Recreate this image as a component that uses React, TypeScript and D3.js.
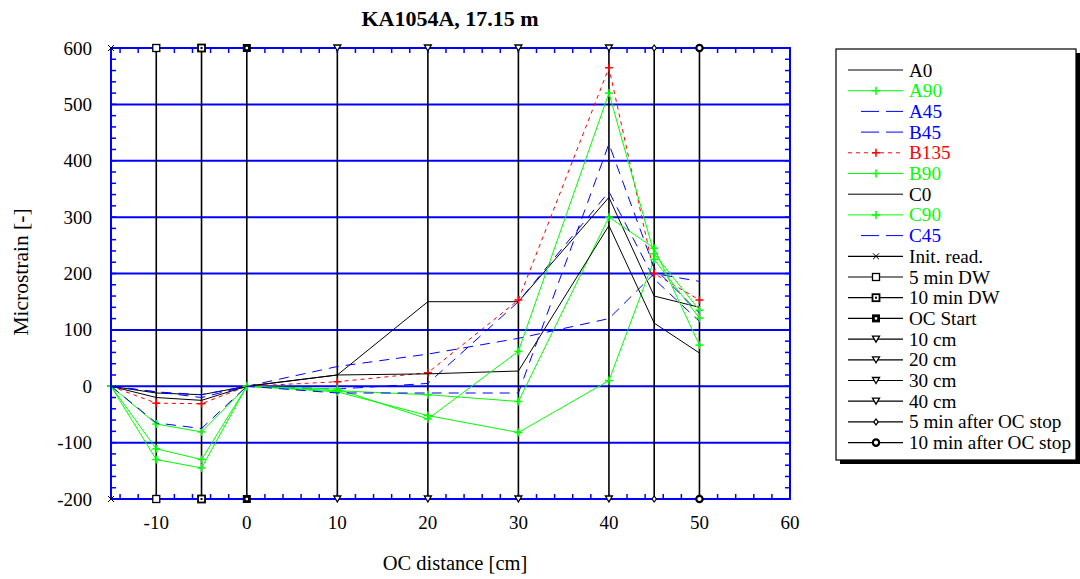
import React from "react";
import * as d3 from "d3";

const xPoints = [-15, -10, -5, 0, 10, 20, 30, 40, 45, 50];

const A0 = [0, -12, -15, 0, 20, 150, 150, 335, 160, 140];
const A90 = [0, -67, -81, 0, -8, -15, -27, 300, 245, 73];
const A45 = [0, -10, -15, 0, 35, 57, 85, 120, 200, 186];
const B45 = [0, -65, -75, 0, -5, 5, 150, 345, 190, 115];
const B135 = [0, -30, -31, 0, 8, 24, 153, 565, 200, 153];
const B90 = [0, -111, -130, 0, -10, -52, -82, 10, 225, 121];
const C0 = [0, -20, -25, 0, 20, 22, 27, 285, 112, 59];
const C90 = [0, -130, -145, 0, -5, -58, 62, 520, 235, 135];
const C45 = [0, -10, -20, 0, -12, -12, -12, 430, 210, 130];

const seriesNames = ["A0", "A90", "A45", "B45", "B135", "B90", "C0", "C90", "C45"];
const seriesValues = [A0, A90, A45, B45, B135, B90, C0, C90, C45];
const seriesKinds = ["black", "green", "blue", "blue", "red", "green", "black", "green", "blue"];

const eventNames = [
  "Init. read.", "5 min DW", "10 min DW", "OC Start", "10 cm", "20 cm",
  "30 cm", "40 cm", "5 min after OC stop", "10 min after OC stop",
];
const eventX = [-15, -10, -5, 0, 10, 20, 30, 40, 45, 50];
const eventMarkers = ["x", "sq", "sqdot", "sqfill", "tri", "tri", "tri", "tri", "diamond", "circle"];
const eventRange = [-200, 600];

const xTickLabels = [-10, 0, 10, 20, 30, 40, 50, 60];
const yTickLabels = [-200, -100, 0, 100, 200, 300, 400, 500, 600];

const STYLE: Record<string, { color: string; dash: string | undefined; plus: boolean }> = {
  black: { color: "#000000", dash: undefined, plus: false },
  green: { color: "#00ff00", dash: undefined, plus: true },
  blue: { color: "#0000ff", dash: "10 7", plus: false },
  red: { color: "#ff0000", dash: "4 4", plus: true },
};

const FONT = "'Liberation Serif', 'Times New Roman', serif";

function Marker({ kind, cx, cy }: { kind: string; cx: number; cy: number }) {
  const s = 3.5;
  switch (kind) {
    case "x":
      return (
        <g stroke="#000" strokeWidth={1}>
          <line x1={cx - 3} y1={cy - 3} x2={cx + 3} y2={cy + 3} />
          <line x1={cx - 3} y1={cy + 3} x2={cx + 3} y2={cy - 3} />
        </g>
      );
    case "sq":
      return <rect x={cx - s} y={cy - s} width={2 * s} height={2 * s} fill="#fff" stroke="#000" strokeWidth={1.3} />;
    case "sqdot":
      return (
        <g>
          <rect x={cx - s} y={cy - s} width={2 * s} height={2 * s} fill="#fff" stroke="#000" strokeWidth={1.8} />
          <rect x={cx - 1} y={cy - 1} width={2} height={2} fill="#000" />
        </g>
      );
    case "sqfill":
      return (
        <g>
          <rect x={cx - s} y={cy - s} width={2 * s} height={2 * s} fill="#000" stroke="#000" strokeWidth={1} />
          <rect x={cx - 1.2} y={cy - 1.2} width={2.4} height={2.4} fill="#fff" />
        </g>
      );
    case "tri":
      return (
        <path d={`M${cx - 3.5},${cy - 3} L${cx + 3.5},${cy - 3} L${cx},${cy + 3} Z`} fill="#fff" stroke="#000" strokeWidth={1.3} />
      );
    case "diamond":
      return (
        <path d={`M${cx},${cy - 3} L${cx + 2.2},${cy} L${cx},${cy + 3} L${cx - 2.2},${cy} Z`} fill="#fff" stroke="#000" strokeWidth={1.2} />
      );
    case "circle":
      return <circle cx={cx} cy={cy} r={3.2} fill="#fff" stroke="#000" strokeWidth={2.2} />;
    default:
      return null;
  }
}

function Plus({ cx, cy, color }: { cx: number; cy: number; color: string }) {
  return (
    <g stroke={color} strokeWidth={1.5}>
      <line x1={cx - 4} y1={cy} x2={cx + 4} y2={cy} />
      <line x1={cx} y1={cy - 4} x2={cx} y2={cy + 4} />
    </g>
  );
}

export default function App() {
  const W = 1080;
  const H = 579;
  const x = d3.scaleLinear().domain([-15, 60]).range([111, 790]);
  const y = d3.scaleLinear().domain([-200, 600]).range([499, 48]);
  const line = d3
    .line<[number, number]>()
    .x((d) => x(d[0]))
    .y((d) => y(d[1]));

  const xMinor = d3.range(-14, 60, 2);
  const yMinor = d3.range(-180, 600, 20);

  const axisColor = "#0000ff";
  const [x0, x1] = x.range();
  const [yb, yt] = y.range();

  const legendX = 836;
  const legendY = 49;
  const legendW = 240;
  const legendH = 411;
  const rowY0 = 70;
  const rowStep = 20.7;

  return (
    <svg
      width={W}
      height={H}
      style={{ position: "absolute", left: 0, top: 0, background: "#fff" }}
      fontFamily={FONT}
    >
      <rect x={0} y={0} width={W} height={H} fill="#fff" />
      <text x={450} y={18} textAnchor="middle" dominantBaseline="central" fontSize={22} fontWeight="bold">
        KA1054A, 17.15 m
      </text>

      {/* horizontal grid */}
      {yTickLabels.map((v) => (
        <line key={"g" + v} x1={x0} x2={x1} y1={y(v)} y2={y(v)} stroke={axisColor} strokeWidth={2} />
      ))}

      {/* event vertical lines */}
      {eventX.map((ex, i) => (
        <path
          key={"ev" + i}
          d={line(eventRange.map((v) => [ex, v] as [number, number])) || ""}
          stroke="#000"
          strokeWidth={1.6}
          fill="none"
        />
      ))}

      {/* data series */}
      {seriesValues.map((vals, si) => {
        const st = STYLE[seriesKinds[si]];
        const pts = vals.map((v, i) => [xPoints[i], v] as [number, number]);
        return (
          <g key={seriesNames[si]}>
            <path d={line(pts) || ""} fill="none" stroke={st.color} strokeWidth={1} strokeDasharray={st.dash} />
            {st.plus && pts.map((p, i) => <Plus key={i} cx={x(p[0])} cy={y(p[1])} color={st.color} />)}
          </g>
        );
      })}

      {/* axes frame */}
      <rect x={x0} y={yt} width={x1 - x0} height={yb - yt} fill="none" stroke={axisColor} strokeWidth={2} />
      {xMinor.map((v) => (
        <g key={"xt" + v} stroke={axisColor} strokeWidth={1.5}>
          <line x1={x(v)} x2={x(v)} y1={yt} y2={yt + 5} />
          <line x1={x(v)} x2={x(v)} y1={yb} y2={yb - 5} />
        </g>
      ))}
      {yMinor.map((v) => (
        <g key={"yt" + v} stroke={axisColor} strokeWidth={1.5}>
          <line x1={x0} x2={x0 + 5} y1={y(v)} y2={y(v)} />
          <line x1={x1} x2={x1 - 5} y1={y(v)} y2={y(v)} />
        </g>
      ))}

      {/* event markers at ends */}
      {eventX.map((ex, i) =>
        eventRange.map((v) => (
          <Marker key={"m" + i + "_" + v} kind={eventMarkers[i]} cx={x(ex)} cy={y(v)} />
        ))
      )}

      {/* tick labels */}
      {yTickLabels.map((v) => (
        <text key={"yl" + v} x={92} y={y(v)} textAnchor="end" dominantBaseline="central" fontSize={19}>
          {v}
        </text>
      ))}
      {xTickLabels.map((v) => (
        <text key={"xl" + v} x={x(v)} y={522} textAnchor="middle" dominantBaseline="central" fontSize={19}>
          {v}
        </text>
      ))}

      <text x={455} y={563} textAnchor="middle" dominantBaseline="central" fontSize={20.5}>
        OC distance [cm]
      </text>
      <text
        transform={`translate(21,272) rotate(-90)`}
        textAnchor="middle"
        dominantBaseline="central"
        fontSize={21.5}
      >
        Microstrain [-]
      </text>

      {/* legend */}
      <rect x={legendX + 4} y={legendY + 4} width={legendW} height={legendH} fill="#000" />
      <rect x={legendX} y={legendY} width={legendW} height={legendH} fill="#fff" stroke="#000" strokeWidth={1.2} />
      {seriesNames.map((name, i) => {
        const st = STYLE[seriesKinds[i]];
        const yy = rowY0 + i * rowStep;
        const isBlue = seriesKinds[i] === "blue";
        return (
          <g key={"lg" + name}>
            <line
              x1={isBlue ? 861 : 848}
              x2={903}
              y1={yy}
              y2={yy}
              stroke={st.color}
              strokeWidth={1}
              strokeDasharray={isBlue ? "18 7" : st.dash}
            />
            {st.plus && <Plus cx={876} cy={yy} color={st.color} />}
            <text x={909} y={yy} dominantBaseline="central" fontSize={19.2} fill={st.color}>
              {name}
            </text>
          </g>
        );
      })}
      {eventNames.map((name, j) => {
        const yy = rowY0 + (seriesNames.length + j) * rowStep;
        return (
          <g key={"le" + j}>
            <line x1={848} x2={903} y1={yy} y2={yy} stroke="#000" strokeWidth={1.2} />
            <Marker kind={eventMarkers[j]} cx={876} cy={yy} />
            <text x={909} y={yy} dominantBaseline="central" fontSize={19.2}>
              {name}
            </text>
          </g>
        );
      })}
    </svg>
  );
}
